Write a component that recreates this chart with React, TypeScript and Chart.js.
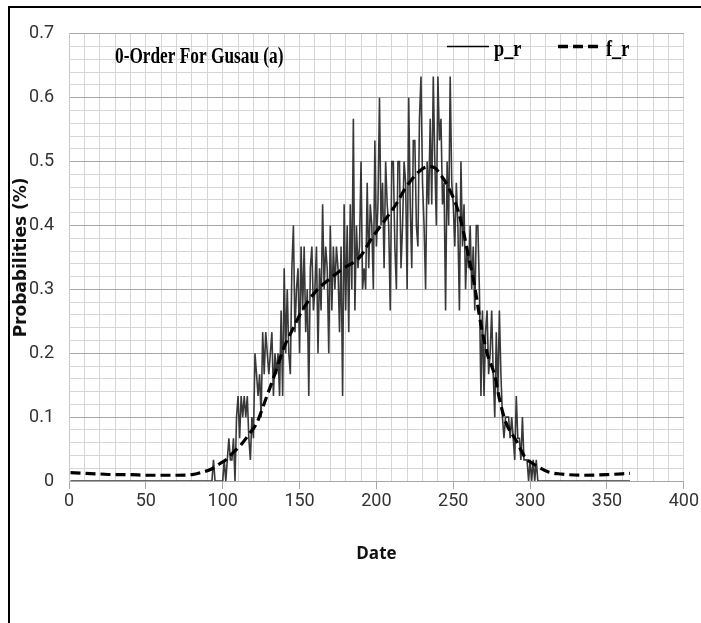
import React, { useEffect, useRef } from "react";
import { Chart, registerables } from "chart.js";

Chart.register(...registerables);

// ---- data ----
const TITLE = "0-Order For Gusau (a)";
const SERIES_NAMES = ["p_r", "f_r"];
const X_TITLE = "Date";
const Y_TITLE = "Probabilities (%)";
const X_TICK_LABELS = [0, 50, 100, 150, 200, 250, 300, 350, 400];
const Y_TICK_LABELS = [0, 0.1, 0.2, 0.3, 0.4, 0.5, 0.6, 0.7];
const FIRST_DAY = 1;

// observed daily probability p_r, day 1 .. day 365
const P_R = [
  // days 1-89
  0, 0, 0, 0, 0, 0, 0, 0, 0, 0,
  0, 0, 0, 0, 0, 0, 0, 0, 0, 0,
  0, 0, 0, 0, 0, 0, 0, 0, 0, 0,
  0, 0, 0, 0, 0, 0, 0, 0, 0, 0,
  0, 0, 0, 0, 0, 0, 0, 0, 0, 0,
  0, 0, 0, 0, 0, 0, 0, 0, 0, 0,
  0, 0, 0, 0, 0, 0, 0, 0, 0, 0,
  0, 0, 0, 0, 0, 0, 0, 0, 0, 0,
  0, 0, 0, 0, 0, 0, 0, 0, 0,
  // days 90-99
  0, 0, 0, 0, 0.033, 0, 0, 0, 0, 0,
  // 100-109
  0, 0.033, 0, 0.033, 0.067, 0.033, 0.033, 0.067, 0, 0.1,
  // 110-119
  0.133, 0.067, 0.133, 0.1, 0.133, 0.1, 0.133, 0.067, 0.033, 0.1,
  // 120-129
  0.067, 0.2, 0.167, 0.133, 0.167, 0.1, 0.233, 0.167, 0.233, 0.2,
  // 130-139
  0.167, 0.2, 0.233, 0.133, 0.2, 0.167, 0.2, 0.133, 0.267, 0.133,
  // 140-149
  0.333, 0.2, 0.3, 0.2, 0.167, 0.333, 0.4, 0.233, 0.3, 0.333,
  // 150-159
  0.2, 0.367, 0.267, 0.367, 0.233, 0.3, 0.133, 0.333, 0.367, 0.267,
  // 160-169
  0.3, 0.367, 0.2, 0.333, 0.267, 0.433, 0.3, 0.367, 0.333, 0.2,
  // 170-179
  0.4, 0.267, 0.367, 0.3, 0.367, 0.333, 0.233, 0.367, 0.133, 0.433,
  // 180-189
  0.267, 0.4, 0.233, 0.433, 0.3, 0.567, 0.267, 0.4, 0.333, 0.367,
  // 190-199
  0.5, 0.3, 0.333, 0.3, 0.467, 0.333, 0.433, 0.4, 0.3, 0.533,
  // 200-209
  0.367, 0.433, 0.6, 0.4, 0.467, 0.333, 0.5, 0.433, 0.4, 0.267,
  // 210-219
  0.5, 0.5, 0.367, 0.3, 0.5, 0.5, 0.333, 0.4, 0.5, 0.467,
  // 220-229
  0.3, 0.6, 0.433, 0.333, 0.533, 0.533, 0.4, 0.367, 0.567, 0.633,
  // 230-239
  0.467, 0.4, 0.3, 0.5, 0.433, 0.567, 0.433, 0.633, 0.5, 0.4,
  // 240-249
  0.633, 0.533, 0.567, 0.433, 0.467, 0.267, 0.5, 0.4, 0.633, 0.467,
  // 250-259
  0.433, 0.367, 0.467, 0.4, 0.267, 0.5, 0.367, 0.433, 0.3, 0.367,
  // 260-269
  0.333, 0.4, 0.3, 0.367, 0.267, 0.4, 0.4, 0.3, 0.133, 0.267,
  // 270-279
  0.133, 0.233, 0.267, 0.167, 0.2, 0.267, 0.167, 0.1, 0.233, 0.133,
  // 280-289
  0.267, 0.167, 0.1, 0.067, 0.1, 0.1, 0.1, 0.067, 0.1, 0.067,
  // 290-299
  0.033, 0.133, 0.067, 0.067, 0.033, 0.1, 0.033, 0.033, 0.033, 0,
  // 300-309
  0.033, 0, 0.033, 0, 0.033, 0, 0, 0, 0, 0,
  // 310-365
  0, 0, 0, 0, 0, 0, 0, 0, 0, 0,
  0, 0, 0, 0, 0, 0, 0, 0, 0, 0,
  0, 0, 0, 0, 0, 0, 0, 0, 0, 0,
  0, 0, 0, 0, 0, 0, 0, 0, 0, 0,
  0, 0, 0, 0, 0, 0, 0, 0, 0, 0,
  0, 0, 0, 0, 0, 0,
];

// fitted curve f_r, read at these days
const F_DAYS = [
  1, 10, 20, 30, 40, 50, 60, 70, 80, 87, 92, 98, 103, 107, 112, 117, 122, 128,
  134, 140, 145, 152, 161, 170, 178, 189, 197, 206, 213, 219, 228, 234, 238,
  241, 247, 253, 257, 260, 263, 268, 272, 277, 280, 284, 291, 297, 302, 306,
  312, 320, 334, 350, 365,
];
const F_R = [
  0.013, 0.012, 0.011, 0.01, 0.01, 0.009, 0.009, 0.009, 0.01, 0.014, 0.018,
  0.027, 0.035, 0.045, 0.057, 0.073, 0.09, 0.128, 0.168, 0.21, 0.235, 0.268,
  0.298, 0.317, 0.332, 0.35, 0.38, 0.41, 0.434, 0.459, 0.485, 0.492, 0.49,
  0.482, 0.459, 0.424, 0.386, 0.35, 0.317, 0.245, 0.2, 0.165, 0.129, 0.093,
  0.063, 0.036, 0.027, 0.021, 0.014, 0.011, 0.009, 0.01, 0.012,
];

const TICK_FONT = "'Roboto', sans-serif";

function drawCondensed(ctx: CanvasRenderingContext2D, text: string, x: number, y: number, sx: number) {
  ctx.save();
  ctx.translate(x, y);
  ctx.scale(sx, 1);
  ctx.fillText(text, 0, 0);
  ctx.restore();
}

const overlayPlugin = {
  id: "overlay",
  afterDraw(chart: any) {
    const ctx: CanvasRenderingContext2D = chart.ctx;
    ctx.save();
    ctx.fillStyle = "#000";
    ctx.textBaseline = "alphabetic";
    ctx.textAlign = "left";
    ctx.font = "bold 24px 'Liberation Serif'";
    drawCondensed(ctx, TITLE, 105, 55, 0.72);
    // legend
    ctx.strokeStyle = "#000";
    ctx.lineWidth = 1.3;
    ctx.beginPath();
    ctx.moveTo(437, 38.5);
    ctx.lineTo(479, 38.5);
    ctx.stroke();
    drawCondensed(ctx, SERIES_NAMES[0], 484, 48, 0.76);
    ctx.lineWidth = 3.5;
    ctx.setLineDash([10, 5]);
    ctx.beginPath();
    ctx.moveTo(548, 38.5);
    ctx.lineTo(593, 38.5);
    ctx.stroke();
    ctx.setLineDash([]);
    drawCondensed(ctx, SERIES_NAMES[1], 596, 48, 0.76);
    ctx.restore();
  },
};

export default function App() {
  const ref = useRef<HTMLCanvasElement | null>(null);

  useEffect(() => {
    if (!ref.current) return;
    const pPoints = P_R.map((v, i) => ({ x: FIRST_DAY + i, y: v }));
    const fPoints = F_R.map((v, i) => ({ x: F_DAYS[i], y: v }));
    const isYLabel = (v: number) => Y_TICK_LABELS.some((t) => Math.abs(t - v) < 1e-6);
    const chart = new Chart(ref.current, {
      type: "line",
      data: {
        datasets: [
          {
            label: SERIES_NAMES[0],
            data: pPoints,
            borderColor: "rgba(40,40,40,0.92)",
            borderWidth: 1.6,
            pointRadius: 0,
            tension: 0,
            order: 1,
          },
          {
            label: SERIES_NAMES[1],
            data: fPoints,
            borderColor: "#000",
            borderWidth: 3.2,
            borderDash: [10, 5],
            pointRadius: 0,
            cubicInterpolationMode: "monotone",
            order: 0,
          },
        ],
      },
      options: {
        responsive: false,
        animation: false,
        events: [],
        layout: { autoPadding: false, padding: { left: 0, top: 14, right: 16, bottom: 52 } },
        plugins: {
          legend: { display: false },
          title: { display: false },
          tooltip: { enabled: false },
        },
        scales: {
          x: {
            type: "linear",
            min: 0,
            max: 400,
            afterFit: (s: any) => {
              s.height = 90;
            },
            ticks: {
              stepSize: 10,
              autoSkip: false,
              maxRotation: 0,
              padding: 2,
              color: "#333",
              font: { family: TICK_FONT, size: 18 },
              callback: (v: any) => (X_TICK_LABELS.includes(Number(v)) ? String(v) : ""),
            },
            grid: {
              color: "#d6d6d6",
              lineWidth: 1,
              drawTicks: true,
              tickLength: 8,
              tickColor: (c: any) =>
                c.tick && X_TICK_LABELS.includes(c.tick.value) ? "#a6a6a6" : "rgba(0,0,0,0)",
            },
            border: { color: "#a6a6a6" },
            title: {
              display: true,
              text: X_TITLE,
              color: "#111",
              font: { family: "'Open Sans', sans-serif", size: 17, weight: "bold" },
              padding: { top: 0, bottom: 7 },
            },
          },
          y: {
            type: "linear",
            min: 0,
            max: 0.7,
            afterFit: (s: any) => {
              s.width = 59;
            },
            ticks: {
              stepSize: 0.02,
              autoSkip: false,
              padding: 15,
              color: "#333",
              font: { family: TICK_FONT, size: 18 },
              callback: (v: any) => (isYLabel(Number(v)) ? String(Math.round(Number(v) * 10) / 10) : ""),
            },
            grid: {
              drawTicks: false,
              lineWidth: 1,
              color: (c: any) => (c.tick && isYLabel(c.tick.value) ? "#a6a6a6" : "#d6d6d6"),
            },
            border: { color: "#c8c8c8" },
            title: {
              display: true,
              text: Y_TITLE,
              color: "#111",
              font: { family: "'DejaVu Sans', sans-serif", size: 17, weight: "bold" },
              padding: { top: 1, bottom: 0 },
            },
          },
        },
      },
      plugins: [overlayPlugin],
    } as any);
    return () => chart.destroy();
  }, []);

  return (
    <div
      style={{
        position: "fixed",
        left: 8,
        top: 6,
        width: 693,
        height: 617,
        borderTop: "2px solid #000",
        borderLeft: "2px solid #000",
        background: "#fff",
        boxSizing: "border-box",
      }}
    >
      <canvas ref={ref} width={691} height={615} style={{ display: "block" }} />
    </div>
  );
}
